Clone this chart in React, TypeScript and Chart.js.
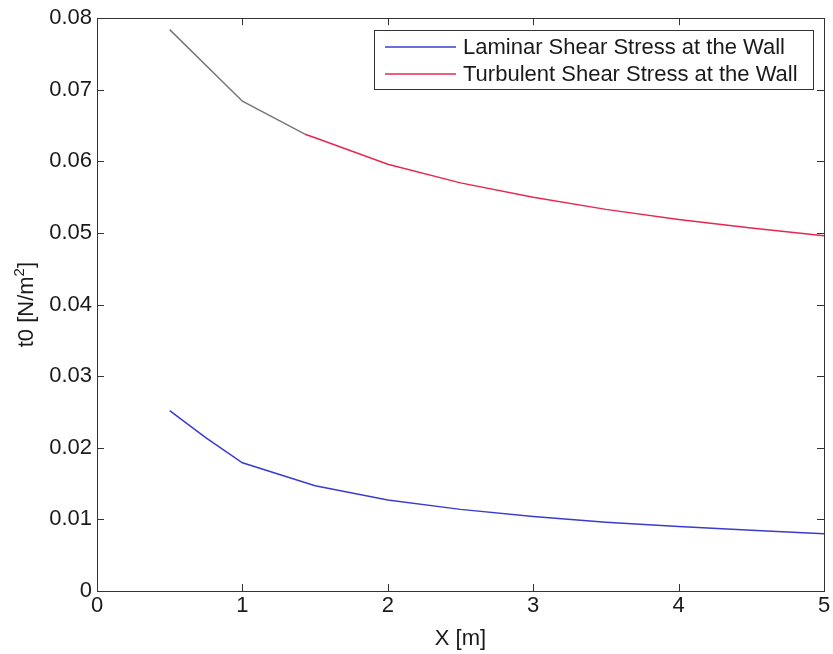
import React, { useEffect, useRef } from "react";
import { Chart, registerables } from "chart.js";
Chart.register(...registerables);

const xTicks = [0, 1, 2, 3, 4, 5];
const yTicks = [0, 0.01, 0.02, 0.03, 0.04, 0.05, 0.06, 0.07, 0.08];
const laminarX = [0.5, 0.75, 1, 1.5, 2, 2.5, 3, 3.5, 4, 4.5, 5];
const laminarY = [0.0252, 0.0214, 0.0179, 0.0147, 0.0127, 0.0114, 0.0104, 0.0096, 0.009, 0.0085, 0.008];
const turbStartX = [0.5, 1, 1.43];
const turbStartY = [0.0784, 0.0684, 0.0638];
const turbX = [1.43, 1.5, 2, 2.5, 3, 3.5, 4, 4.5, 5];
const turbY = [0.0638, 0.0633, 0.0596, 0.057, 0.055, 0.0533, 0.0519, 0.0507, 0.0496];
const legendLabels = ["Laminar Shear Stress at the Wall", "Turbulent Shear Stress at the Wall"];
const xTitle = "X [m]";
const yTitleMain = "t0 [N/m";
const yTitleSup = "2";
const yTitleEnd = "]";

const FONT = "'Liberation Sans', Arial, sans-serif";
const LAM_COLOR = "#3b3bd0";
const TURB_COLOR = "#e8274f";
const GRAY = "#777777";
const TEXT = "#1a1a1a";

const framePlugin = {
  id: "frame",
  afterDraw(chart: any) {
    const { ctx, chartArea: a, scales } = chart;
    ctx.save();
    ctx.strokeStyle = "#333";
    ctx.lineWidth = 1;
    ctx.strokeRect(Math.round(a.left) + 0.5, Math.round(a.top) + 0.5, Math.round(a.right - a.left), Math.round(a.bottom - a.top));
    const tl = 7;
    ctx.beginPath();
    xTicks.forEach((v) => {
      const px = Math.round(scales.x.getPixelForValue(v)) + 0.5;
      ctx.moveTo(px, a.bottom); ctx.lineTo(px, a.bottom - tl);
      ctx.moveTo(px, a.top); ctx.lineTo(px, a.top + tl);
    });
    yTicks.forEach((v) => {
      const py = Math.round(scales.y.getPixelForValue(v)) + 0.5;
      ctx.moveTo(a.left, py); ctx.lineTo(a.left + tl, py);
      ctx.moveTo(a.right, py); ctx.lineTo(a.right - tl, py);
    });
    ctx.stroke();

    // titles
    ctx.fillStyle = TEXT;
    ctx.font = `22px ${FONT}`;
    ctx.textAlign = "center";
    ctx.textBaseline = "alphabetic";
    ctx.fillText(xTitle, (a.left + a.right) / 2, 645);

    ctx.save();
    ctx.translate(33, (a.top + a.bottom) / 2);
    ctx.rotate(-Math.PI / 2);
    ctx.font = `22px ${FONT}`;
    const w1 = ctx.measureText(yTitleMain).width;
    ctx.font = `15px ${FONT}`;
    const w2 = ctx.measureText(yTitleSup).width;
    ctx.font = `22px ${FONT}`;
    const w3 = ctx.measureText(yTitleEnd).width;
    let x0 = -(w1 + w2 + w3) / 2;
    ctx.textAlign = "left";
    ctx.fillText(yTitleMain, x0, 0);
    ctx.font = `15px ${FONT}`;
    ctx.fillText(yTitleSup, x0 + w1, -9);
    ctx.font = `22px ${FONT}`;
    ctx.fillText(yTitleEnd, x0 + w1 + w2, 0);
    ctx.restore();

    // legend
    const lx = 374, ly = 30, lw = 439, lh = 59;
    ctx.fillStyle = "#fff";
    ctx.fillRect(lx, ly, lw, lh);
    ctx.strokeStyle = "#333";
    ctx.lineWidth = 1;
    ctx.strokeRect(lx + 0.5, ly + 0.5, lw, lh);
    const colors = [LAM_COLOR, TURB_COLOR];
    legendLabels.forEach((t, i) => {
      const yy = 47 + i * 27;
      ctx.strokeStyle = colors[i];
      ctx.lineWidth = 1.5;
      ctx.beginPath();
      ctx.moveTo(385, yy);
      ctx.lineTo(456, yy);
      ctx.stroke();
      ctx.fillStyle = TEXT;
      ctx.font = `22px ${FONT}`;
      ctx.textAlign = "left";
      ctx.textBaseline = "alphabetic";
      ctx.fillText(t, 463, yy + 7);
    });
    ctx.restore();
  },
};

export default function App() {
  const ref = useRef<HTMLCanvasElement>(null);
  useEffect(() => {
    if (!ref.current) return;
    const chart = new Chart(ref.current, {
      type: "line",
      data: {
        datasets: [
          {
            label: legendLabels[0],
            data: laminarX.map((x, i) => ({ x, y: laminarY[i] })),
            borderColor: LAM_COLOR,
            borderWidth: 1.5,
            pointRadius: 0,
            tension: 0,
          },
          {
            label: "turb-start",
            data: turbStartX.map((x, i) => ({ x, y: turbStartY[i] })),
            borderColor: GRAY,
            borderWidth: 1.5,
            pointRadius: 0,
            tension: 0,
          },
          {
            label: legendLabels[1],
            data: turbX.map((x, i) => ({ x, y: turbY[i] })),
            borderColor: TURB_COLOR,
            borderWidth: 1.5,
            pointRadius: 0,
            tension: 0,
          },
        ],
      },
      options: {
        responsive: false,
        animation: false,
        layout: { padding: { left: 0, right: 9, top: 18, bottom: 0 } },
        plugins: { legend: { display: false }, tooltip: { enabled: false } },
        scales: {
          x: {
            type: "linear",
            min: 0,
            max: 5,
            grid: { display: false, drawTicks: false },
            border: { display: false },
            ticks: { stepSize: 1, padding: 2, color: TEXT, font: { family: FONT, size: 22 }, maxRotation: 0 },
            afterFit: (s: any) => { s.height = 63; },
          },
          y: {
            type: "linear",
            min: 0,
            max: 0.08,
            grid: { display: false, drawTicks: false },
            border: { display: false },
            ticks: {
              stepSize: 0.01,
              padding: 5,
              color: TEXT,
              font: { family: FONT, size: 22 },
              callback: (v: any) => (Number(v) === 0 ? "0" : Number(v).toFixed(2)),
            },
            afterFit: (s: any) => { s.width = 97; },
          },
        },
      },
      plugins: [framePlugin],
    });
    return () => chart.destroy();
  }, []);
  return (
    <div style={{ position: "absolute", left: 0, top: 0, width: 833, height: 654, background: "#fff" }}>
      <canvas ref={ref} width={833} height={654} />
    </div>
  );
}
